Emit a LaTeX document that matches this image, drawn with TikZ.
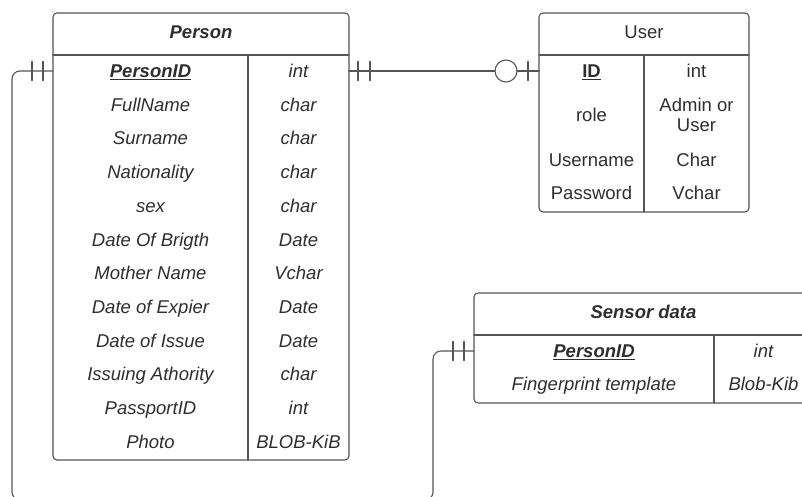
\documentclass[tikz,border=0pt]{standalone}
\usepackage{fontspec}
\setmainfont{Liberation Sans}
\definecolor{edgegray}{HTML}{555555}
\definecolor{inkgray}{HTML}{2E2E2E}
\begin{document}
\begin{tikzpicture}[x=1pt, y=-1pt, line cap=round, line join=round,
  table/.style={draw=edgegray, line width=1.1pt, rounded corners=4pt,
    inner sep=0pt, outer sep=0pt, anchor=north west},
  cell/.style={anchor=base, inner sep=0pt, text=inkgray,
    font=\fontsize{18.5pt}{21pt}\selectfont},
  attr/.style={cell, font=\fontsize{18.5pt}{21pt}\selectfont\itshape},
  title/.style={attr, font=\fontsize{18.5pt}{21pt}\selectfont\bfseries\itshape},
  rel/.style={draw=edgegray, line width=1.1pt}]
  \useasboundingbox (0,0) rectangle (802,496);
  \clip (0,0) rectangle (802,496);

  % Person table
  \node[table, minimum width=296pt, minimum height=447pt] (person) at (53,13) {};
  \draw[rel] (53,55) -- (349,55);
  \draw[rel] (248,55) -- (248,460);
  \node[title] (person-title) at (201,38.5) {Person};
  \node[title] (p-name-0) at (150.5,77.5) {\underline{PersonID}};
  \node[attr] (p-type-0) at (298.5,77.5) {int};
  \foreach \name/\type [count=\i] in {FullName/char, Surname/char,
      Nationality/char, sex/char, Date Of Brigth/Date, Mother Name/Vchar,
      Date of Expier/Date, Date of Issue/Date, Issuing Athority/char,
      PassportID/int, Photo/BLOB-KiB} {
    \node[attr] (p-name-\i) at (150.5,77.5+33.7*\i) {\name};
    \node[attr] (p-type-\i) at (298.5,77.5+33.7*\i) {\type};
  }

  % User table
  \node[table, minimum width=210pt, minimum height=199pt] (user) at (539,13) {};
  \draw[rel] (539,55) -- (749,55);
  \draw[rel] (644,55) -- (644,212);
  \node[cell] (user-title) at (644,38.5) {User};
  \node[cell] (u-name-0) at (591.5,77.5) {\bfseries\underline{ID}};
  \node[cell] (u-type-0) at (696.5,77.5) {int};
  \node[cell] (u-name-1) at (591.5,121.5) {role};
  \node[cell, align=center, anchor=center] (u-type-1) at (696.5,115)
    {Admin or\\[-1pt]User};
  \node[cell] (u-name-2) at (591.5,166.5) {Username};
  \node[cell] (u-type-2) at (696.5,166.5) {Char};
  \node[cell] (u-name-3) at (591.5,199.5) {Password};
  \node[cell] (u-type-3) at (696.5,199.5) {Vchar};

  % Sensor data table
  \node[table, minimum width=339pt, minimum height=110pt] (sensor) at (474,293) {};
  \draw[rel] (474,335) -- (813,335);
  \draw[rel] (714,335) -- (714,403);
  \node[title] (sensor-title) at (643.5,318.5) {Sensor data};
  \node[title] (s-name-0) at (594,357.5) {\underline{PersonID}};
  \node[attr] (s-type-0) at (763.5,357.5) {int};
  \node[attr] (s-name-1) at (594,390.5) {Fingerprint template};
  \node[attr] (s-type-1) at (763.5,390.5) {Blob-Kib};

  % Person -- User
  \coordinate (pu-a) at ([yshift=-58pt]person.north east);
  \coordinate (pu-b) at ([yshift=-58pt]user.north west);
  \draw[rel] (pu-a) -- (pu-b);
  \draw[rel, fill=white] ([xshift=-33pt]pu-b) circle (11pt);
  \foreach \d in {9,21}
    \draw[rel] ([xshift=\d pt]pu-a) ++(0,-9.5) -- ++(0,19);
  \draw[rel] ([xshift=-11pt]pu-b) ++(0,-9.5) -- ++(0,19);

  % Person -- Sensor data
  \coordinate (ps-a) at ([yshift=-58pt]person.north west);
  \coordinate (ps-b) at ([yshift=-58pt]sensor.north west);
  \draw[rel, rounded corners=8pt] (ps-a) -| (12,500) -| (433,351) -- (ps-b);
  \foreach \d in {10,21} {
    \draw[rel] ([xshift=-\d pt]ps-a) ++(0,-9.5) -- ++(0,19);
    \draw[rel] ([xshift=-\d pt]ps-b) ++(0,-9.5) -- ++(0,19);
  }
\end{tikzpicture}
\end{document}
